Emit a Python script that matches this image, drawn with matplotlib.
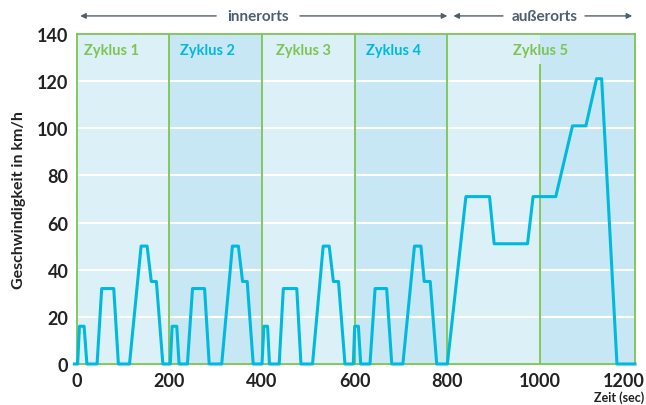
import matplotlib.pyplot as plt
import matplotlib.transforms as mtransforms

# NEDC-Fahrzyklus, Werte
zeit = [-5, 2, 6, 16, 22, 44, 54, 80, 90, 114, 139, 152, 161, 172, 186,
        202, 206, 216, 221, 239, 250, 276, 286, 313, 336, 349, 358, 368, 381,
        400, 404, 412, 416, 437, 446, 475, 484, 509, 532, 545, 554, 565, 579,
        597, 600, 608, 613, 633, 644, 669, 680, 704, 729, 743, 750, 763, 777,
        800, 840, 891, 901, 973, 985, 1034, 1070, 1099, 1122, 1133, 1166, 1205]
geschw = [0, 0, 16, 16, 0, 0, 32, 32, 0, 0, 50, 50, 35, 35, 0,
          0, 16, 16, 0, 0, 32, 32, 0, 0, 50, 50, 35, 35, 0,
          0, 16, 16, 0, 0, 32, 32, 0, 0, 50, 50, 35, 35, 0,
          0, 16, 16, 0, 0, 32, 32, 0, 0, 50, 50, 35, 35, 0,
          0, 71, 71, 51, 51, 71, 71, 101, 101, 121, 121, 0, 0]

zyklus_grenzen = [0, 200, 400, 600, 800, 1000, 1205]
zyklus_namen = ["Zyklus 1", "Zyklus 2", "Zyklus 3", "Zyklus 4", "Zyklus 5"]
zyklus_text_x = [16, 223, 431, 625, 1002]
x_ticks = [0, 200, 400, 600, 800, 1000, 1200]
y_ticks = [0, 20, 40, 60, 80, 100, 120, 140]

hell = "#dcf0f8"
dunkel = "#c6e7f3"
gruen = "#7dc452"
cyan = "#00b9de"
grau = "#4d5f6e"
schrift = "#222222"

plt.rcParams["font.family"] = ["Lato", "DejaVu Sans"]

fig = plt.figure(figsize=(6.46, 4.06), dpi=100)
ax = fig.add_axes([0.1187, 0.101, 0.8643, 0.813])
ax.set_xlim(0, 1205)
ax.set_ylim(0, 140)

farben = [hell, dunkel, hell, dunkel, hell, dunkel]
for i in range(len(zyklus_grenzen) - 1):
    ax.axvspan(zyklus_grenzen[i], zyklus_grenzen[i + 1], color=farben[i], lw=0, zorder=0)

for y in y_ticks[1:-1]:
    ax.axhline(y, color="white", lw=1.5, zorder=1)

for g in zyklus_grenzen[1:5]:
    ax.axvline(g, color=gruen, lw=1.3, zorder=2)
ax.plot([1000, 1000], [0, 127], color=gruen, lw=1.3, zorder=2)

for s in ["left", "top", "right", "bottom"]:
    ax.spines[s].set_color(gruen)
    ax.spines[s].set_linewidth(1.3)

ax.plot(zeit, geschw, color=cyan, lw=2.2, zorder=4, clip_on=False)

for i, name in enumerate(zyklus_namen):
    farbe = gruen if i % 2 == 0 else cyan
    ha = "center" if i == 4 else "left"
    ax.text(zyklus_text_x[i], 133, name, color=farbe, fontsize=10.5,
            fontweight="bold", ha=ha, va="center", zorder=5)

ax.set_xticks(x_ticks)
ax.set_yticks(y_ticks)
ax.tick_params(length=0, labelsize=13, colors=schrift, pad=6)
for lab in ax.get_xticklabels() + ax.get_yticklabels():
    lab.set_fontweight("bold")
# letzte Beschriftung etwas nach links, damit sie nicht abgeschnitten wird
letzte = ax.get_xticklabels()[-1]
letzte.set_transform(letzte.get_transform() +
                     mtransforms.ScaledTranslation(-9 / 100, 0, fig.dpi_scale_trans))
ax.set_ylabel("Geschwindigkeit in km/h", fontsize=11.5, fontweight="bold",
              color=schrift, labelpad=8)

fig.text(0.997, 0.004, "Zeit (sec)", fontsize=9, fontweight="bold",
         color=schrift, ha="right", va="bottom")

# Pfeile oben
trans = mtransforms.blended_transform_factory(ax.transData, ax.transAxes)
y_pf = 1.0545
pfeile = [(301, 7.6), (482, 800), (920, 813), (1097, 1199)]
for start, ende in pfeile:
    ax.annotate("", xy=(ende, y_pf), xytext=(start, y_pf), xycoords=trans,
                textcoords=trans, annotation_clip=False,
                arrowprops=dict(arrowstyle="-|>", color=grau, lw=1,
                                mutation_scale=8, shrinkA=0, shrinkB=0))
ax.text(391.6, y_pf, "innerorts", transform=trans, color=grau, fontsize=11,
        fontweight="bold", ha="center", va="center")
ax.text(1010.8, y_pf, "außerorts", transform=trans, color=grau, fontsize=11,
        fontweight="bold", ha="center", va="center")

fig.savefig("out.png", dpi=100)
